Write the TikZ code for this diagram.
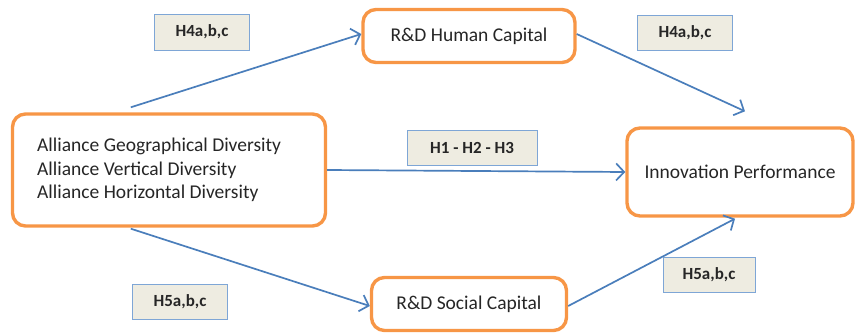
\documentclass[tikz,border=0pt]{standalone}
\usepackage{fontspec}
\setmainfont{Carlito}
\usetikzlibrary{arrows.meta}
\definecolor{boxorange}{HTML}{F79646}
\definecolor{arrowblue}{HTML}{4A7EBB}
\definecolor{labelfill}{HTML}{EEECE1}
\definecolor{labelline}{HTML}{7EA6D6}
\definecolor{textdark}{HTML}{262626}
\begin{document}
\begin{tikzpicture}[x=1pt,y=-1pt,
  varbox/.style={draw=boxorange,line width=3.4pt,rounded corners=13pt,fill=white,
    font=\fontsize{19.5}{23}\selectfont,text=textdark,inner sep=0pt,align=left},
  hyplabel/.style={draw=labelline,line width=0.8pt,fill=labelfill,
    font=\fontsize{17}{19}\selectfont\bfseries,text=textdark,inner sep=0pt},
  link/.style={draw=arrowblue,line width=1.7pt,-{Straight Barb[length=8pt,width=17pt,line width=1.7pt]}}]
\useasboundingbox (0,0) rectangle (856,332);
\node[varbox,minimum width=313pt,minimum height=112pt] (L) at (169,170) {};
\node[font=\fontsize{19.5}{23.5}\selectfont,text=textdark,align=left,anchor=west,inner sep=0pt] (Ltext) at (37,170)
  {Alliance Geographical Diversity\\Alliance Vertical Diversity\\Alliance Horizontal Diversity};
\node[varbox,minimum width=212pt,minimum height=53pt] (H) at (469,36) {R\&D Human Capital};
\node[varbox,minimum width=195pt,minimum height=53pt] (S) at (469,304) {R\&D Social Capital};
\node[varbox,minimum width=226pt,minimum height=88pt] (I) at (740,172) {Innovation Performance};
\node[hyplabel,minimum width=95pt,minimum height=36pt] (h4l) at (202,32) {H4a,b,c};
\node[hyplabel,minimum width=95pt,minimum height=35pt] (h4r) at (685,33) {H4a,b,c};
\node[hyplabel,minimum width=130pt,minimum height=35pt] (h1) at (472,148) {H1 - H2 - H3};
\node[hyplabel,minimum width=95pt,minimum height=35pt] (h5l) at (180,302) {H5a,b,c};
\node[hyplabel,minimum width=92pt,minimum height=35pt] (h5r) at (709,275) {H5a,b,c};
\draw[link] ([xshift=120pt,yshift=5pt]L.north west) -- ([yshift=2pt]H.west);
\draw[link] ([yshift=2pt]H.east) -- ([xshift=5pt,yshift=15pt]I.north);
\draw[link] (L.east) -- (I.west);
\draw[link] ([xshift=120pt,yshift=-1pt]L.south west) -- ([yshift=-2pt]S.west);
\draw[link] ([yshift=-2pt]S.east) -- ([xshift=-5pt,yshift=-1pt]I.south);
\end{tikzpicture}
\end{document}
